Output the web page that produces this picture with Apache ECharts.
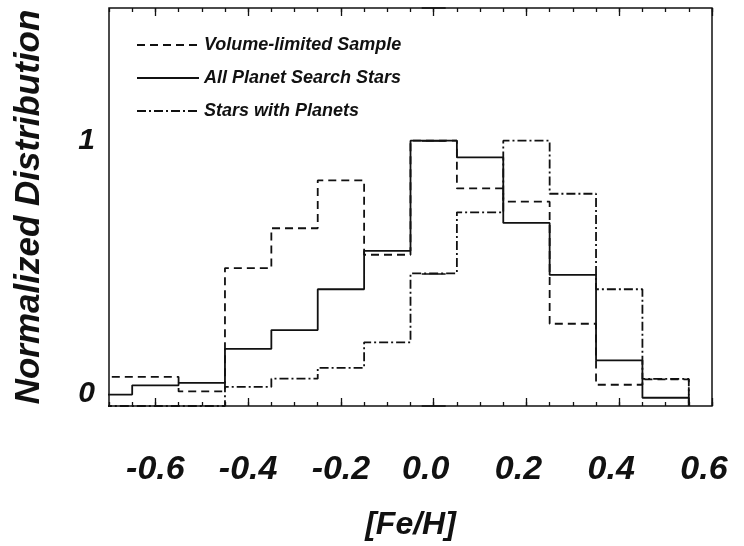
<!DOCTYPE html>
<html>
<head>
<meta charset="utf-8">
<script src="https://cdn.jsdelivr.net/npm/echarts@6/dist/echarts.min.js"></script>
<style>
  html, body { margin: 0; padding: 0; background: #fff; }
  #main { width: 744px; height: 546px; }
</style>
</head>
<body>
<div id="main"></div>
<script>
// bin centres of the [Fe/H] histogram (bin width 0.1)
var binCenters = [-0.7, -0.6, -0.5, -0.4, -0.3, -0.2, -0.1, 0.0, 0.1, 0.2, 0.3, 0.4, 0.5];
var binWidth = 0.1;
// normalized heights
var volumeLimited   = [0.11, 0.11, 0.055, 0.52, 0.67, 0.85, 0.57, 1.0, 0.82, 0.77, 0.31, 0.08, 0.10];
var allPlanetSearch = [0.043, 0.078, 0.087, 0.215, 0.286, 0.44, 0.585, 1.0, 0.937, 0.69, 0.494, 0.172, 0.031];
var starsWithPlanets = [0, 0, 0, 0.072, 0.103, 0.144, 0.24, 0.5, 0.73, 1.0, 0.80, 0.44, 0.102];
var xTickLabels = [-0.6, -0.4, -0.2, 0.0, 0.2, 0.4, 0.6];
var yTickLabels = [0, 1];

var FONT = 'Liberation Sans';

// turn the bins into a step outline (left edge of each bin, then close at the right)
function steps(vals) {
    var out = [];
    for (var i = 0; i < binCenters.length; i++) {
        out.push([binCenters[i] - binWidth / 2, vals[i]]);
    }
    var last = binCenters[binCenters.length - 1] + binWidth / 2;
    out.push([last, vals[vals.length - 1]]);
    out.push([last, 0]);
    return out;
}

var myChart = echarts.init(document.getElementById('main'));

var gridBox = {left: 109, top: 8, width: 603, height: 398};

var baseX = {
    type: 'value', min: -0.7, max: 0.6,
    splitLine: {show: false},
    axisLine: {show: false}
};
var labelFont = {fontFamily: FONT, fontWeight: 'bold', fontStyle: 'italic', fontSize: 34, color: '#111'};

myChart.setOption({
    animation: false,
    backgroundColor: '#fff',
    grid: Object.assign({show: true, borderColor: '#111', borderWidth: 1.5, backgroundColor: 'transparent'}, gridBox),
    legend: {
        orient: 'vertical',
        left: 131, top: 31,
        itemWidth: 62, itemHeight: 12,
        itemGap: 15,
        itemStyle: {opacity: 0},
        data: ['Volume-limited Sample', 'All Planet Search Stars', 'Stars with Planets'],
        textStyle: {fontFamily: FONT, fontWeight: 'bold', fontStyle: 'italic', fontSize: 18, color: '#111'}
    },
    xAxis: [
        // minor ticks bottom
        Object.assign({}, baseX, {
            position: 'bottom', interval: 0.05,
            axisTick: {show: true, inside: true, length: 4, lineStyle: {color: '#111', width: 1.3}},
            axisLabel: {show: false}
        }),
        // major ticks + labels bottom
        Object.assign({}, baseX, {
            position: 'bottom',
            axisTick: {show: true, inside: true, length: 8, customValues: xTickLabels, lineStyle: {color: '#111', width: 1.3}},
            axisLabel: {
                show: true, customValues: xTickLabels, margin: 47,
                formatter: function (v) {
                    return v < 0 ? '{n|' + v.toFixed(1) + '}' : '{p|' + v.toFixed(1) + '}';
                },
                rich: {
                    n: labelFont,
                    p: Object.assign({padding: [0, 16, 0, 0]}, labelFont)
                }
            },
            name: '[Fe/H]', nameLocation: 'middle', nameGap: 103,
            nameTextStyle: {fontFamily: FONT, fontWeight: 'bold', fontStyle: 'italic', fontSize: 32, color: '#111'}
        }),
        // minor ticks top
        Object.assign({}, baseX, {
            position: 'top', interval: 0.05,
            axisTick: {show: true, inside: true, length: 4, lineStyle: {color: '#111', width: 1.3}},
            axisLabel: {show: false}
        }),
        // major ticks top
        Object.assign({}, baseX, {
            position: 'top',
            axisTick: {show: true, inside: true, length: 8, customValues: xTickLabels, lineStyle: {color: '#111', width: 1.3}},
            axisLabel: {show: false}
        })
    ],
    yAxis: [
        {
            type: 'value', min: 0, max: 1.5, interval: 0.5, position: 'left',
            splitLine: {show: false},
            axisLine: {show: false},
            axisTick: {show: true, inside: true, length: 12, lineStyle: {color: '#111', width: 1.5}},
            axisLabel: {
                margin: 14,
                formatter: function (v) {
                    if (v === 0) return '{zero|0}';
                    return yTickLabels.indexOf(v) >= 0 ? String(v) : '';
                },
                rich: {zero: {fontFamily: FONT, fontWeight: 'bold', fontStyle: 'italic', fontSize: 30, color: '#111', padding: [0, 0, 24, 0]}},
                fontFamily: FONT, fontWeight: 'bold', fontStyle: 'italic', fontSize: 30, color: '#111'
            },
            name: 'Normalized Distribution', nameLocation: 'middle', nameGap: 62,
            nameTextStyle: {fontFamily: FONT, fontWeight: 'bold', fontStyle: 'italic', fontSize: 35, color: '#111'}
        },
        {
            type: 'value', min: 0, max: 1.5, interval: 0.5, position: 'right',
            splitLine: {show: false},
            axisLine: {show: false},
            axisTick: {show: true, inside: true, length: 12, lineStyle: {color: '#111', width: 1.5}},
            axisLabel: {show: false}
        }
    ],
    series: [
        {
            name: 'Volume-limited Sample', type: 'line', step: 'end', symbol: 'none',
            xAxisIndex: 0, yAxisIndex: 0,
            data: steps(volumeLimited),
            lineStyle: {color: '#111', width: 1.8, type: [8, 5]},
            itemStyle: {color: '#111'}
        },
        {
            name: 'All Planet Search Stars', type: 'line', step: 'end', symbol: 'none',
            xAxisIndex: 0, yAxisIndex: 0,
            data: steps(allPlanetSearch),
            lineStyle: {color: '#111', width: 1.8, type: 'solid'},
            itemStyle: {color: '#111'}
        },
        {
            name: 'Stars with Planets', type: 'line', step: 'end', symbol: 'none',
            xAxisIndex: 0, yAxisIndex: 0,
            data: steps(starsWithPlanets),
            lineStyle: {color: '#111', width: 1.8, type: [9, 3, 2, 3]},
            itemStyle: {color: '#111'}
        }
    ]
});
</script>
</body>
</html>
